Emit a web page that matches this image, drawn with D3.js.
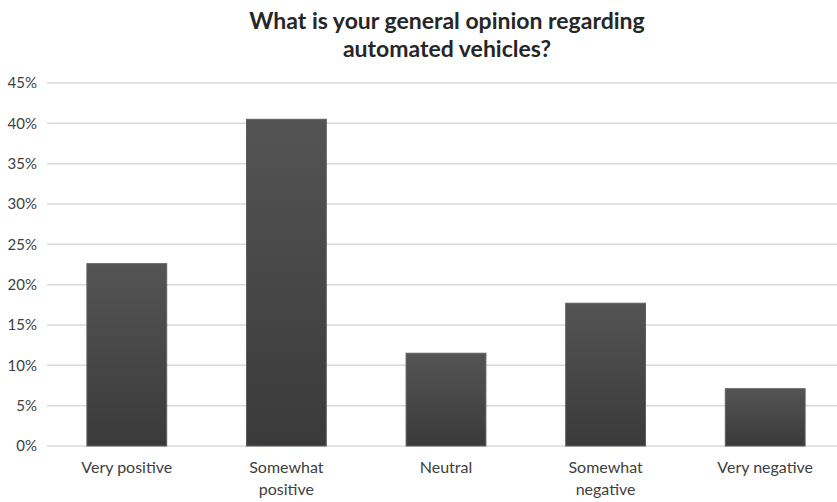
<!DOCTYPE html>
<html>
<head>
<meta charset="utf-8">
<script src="https://cdn.jsdelivr.net/npm/d3@7"></script>
<style>
  html, body { margin: 0; padding: 0; background: #fff; }
  svg { display: block; font-family: Lato, "Open Sans", sans-serif; }
</style>
</head>
<body>
<svg id="chart" width="837" height="502"></svg>
<script>
// Survey responses: general opinion regarding automated vehicles
const categories = [["Very positive"], ["Somewhat", "positive"], ["Neutral"], ["Somewhat", "negative"], ["Very negative"]];
const shares = [22.6, 40.5, 11.5, 17.7, 7.1];
const yTicks = [0, 5, 10, 15, 20, 25, 30, 35, 40, 45];
const titleLines = ["What is your general opinion regarding", "automated vehicles?"];

const svg = d3.select("#chart");
const W = 837, H = 502;
const margin = { left: 47, right: -8, top: 83, bottom: 56 };

const keys = categories.map(c => c.join(" "));
const x = d3.scaleBand().domain(keys).range([margin.left, W - margin.right]).paddingInner(0.5).paddingOuter(0.25);
const y = d3.scaleLinear().domain([0, 45]).range([H - margin.bottom, margin.top]);

// bar shading
const defs = svg.append("defs");
const grad = defs.append("linearGradient").attr("id", "barGrad").attr("x1", 0).attr("y1", 0).attr("x2", 0).attr("y2", 1);
grad.append("stop").attr("offset", "0%").attr("stop-color", "#545454");
grad.append("stop").attr("offset", "100%").attr("stop-color", "#3a3a3a");

// gridlines
svg.append("g")
  .selectAll("line")
  .data(yTicks)
  .join("line")
  .attr("x1", margin.left).attr("x2", W)
  .attr("y1", d => y(d)).attr("y2", d => y(d))
  .attr("stroke", "#d9d9d9").attr("stroke-width", 1.5);

// y tick labels
svg.append("g")
  .selectAll("text")
  .data(yTicks)
  .join("text")
  .attr("x", 37).attr("y", d => y(d)).attr("dy", "0.35em")
  .attr("text-anchor", "end")
  .attr("font-size", 15).attr("fill", "#404040")
  .text(d => d + "%");

// bars
svg.append("g")
  .selectAll("rect")
  .data(shares)
  .join("rect")
  .attr("x", (d, i) => x(keys[i]))
  .attr("width", x.bandwidth())
  .attr("y", d => y(d))
  .attr("height", d => y(0) - y(d))
  .attr("fill", "url(#barGrad)")
  .attr("stroke", "#5e5e5e").attr("stroke-width", 1);

// category labels
const cat = svg.append("g")
  .selectAll("text")
  .data(categories)
  .join("text")
  .attr("text-anchor", "middle")
  .attr("font-size", 16).attr("fill", "#404040")
  .attr("x", (d, i) => x(keys[i]) + x.bandwidth() / 2)
  .attr("y", 473);
cat.selectAll("tspan")
  .data(d => d)
  .join("tspan")
  .attr("x", function () { return d3.select(this.parentNode).attr("x"); })
  .attr("dy", (d, i) => i === 0 ? 0 : 22)
  .text(d => d);

// title
svg.append("text")
  .attr("text-anchor", "middle")
  .attr("font-size", 23).attr("font-weight", "bold").attr("fill", "#262626")
  .selectAll("tspan")
  .data(titleLines)
  .join("tspan")
  .attr("x", 447)
  .attr("y", (d, i) => 29 + i * 28)
  .text(d => d);
</script>
</body>
</html>
